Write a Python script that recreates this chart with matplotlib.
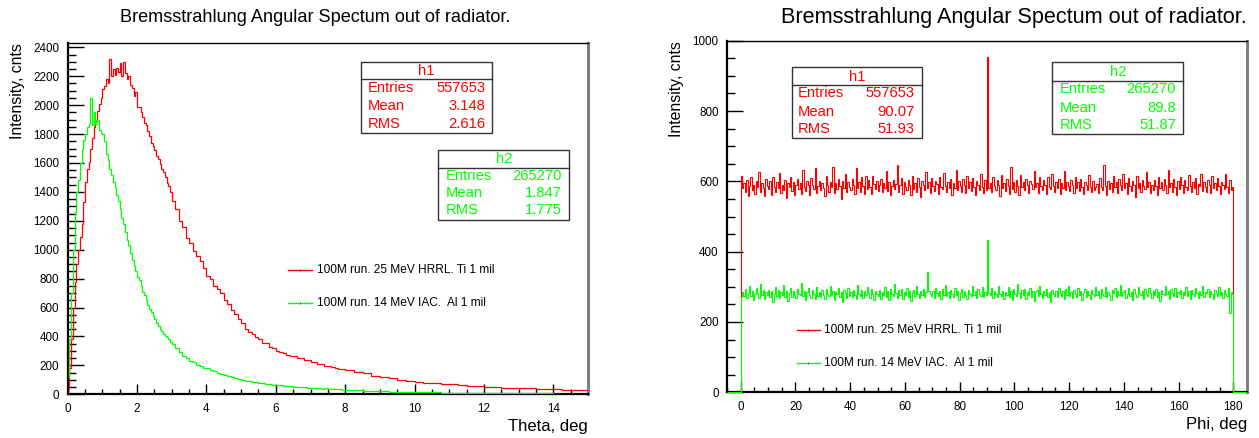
import matplotlib
matplotlib.use("Agg")
import matplotlib.pyplot as plt
import numpy as np
from matplotlib.lines import Line2D
from matplotlib.patches import Rectangle
from matplotlib.ticker import MultipleLocator

# ---------------- data ----------------
title = "Bremsstrahlung Angular Spectum out of radiator."
legend_labels = ["100M run. 25 MeV HRRL. Ti 1 mil", "100M run. 14 MeV IAC.  Al 1 mil"]

# theta histograms (bin edges: 0-3 step .05, 3-8 step .1, 8-15 step .25)
theta_red_a = [40, 180, 380, 600, 780, 900, 1000, 1090, 1180, 1330, 1470, 1560, 1610, 1700, 1770,
               1850, 1890, 1960, 2010, 2050, 2110, 2130, 2180, 2150, 2320, 2200, 2250, 2210, 2260, 2230,
               2290, 2200, 2300, 2220, 2180, 2200, 2140, 2120, 2060, 2090, 1990, 1990, 1950, 1920, 1880,
               1860, 1820, 1790, 1740, 1720, 1690, 1650, 1630, 1590, 1560, 1540, 1500, 1460, 1440, 1400]
theta_red_b = [1340, 1280, 1200, 1160, 1080, 1050, 990, 960, 925, 875, 820, 795, 750, 725, 700,
               650, 625, 585, 555, 520, 490, 455, 430, 415, 398, 382, 358, 352, 328, 322,
               300, 292, 284, 272, 266, 262, 253, 251, 238, 238, 226, 224, 213, 210, 199,
               197, 188, 184, 175, 172]
theta_red_c = [165, 157, 145, 129, 121, 111, 101, 91, 85, 79, 77, 72, 68, 63, 58, 56, 51, 51,
               46, 47, 43, 42, 39, 38, 36, 33, 31, 27]

theta_grn_a = [120, 380, 700, 1000, 1260, 1400, 1480, 1600, 1690, 1760, 1800, 1850, 1880, 2050, 1860,
               1950, 1870, 1900, 1830, 1810, 1800, 1750, 1660, 1620, 1560, 1520, 1470, 1430, 1380, 1340,
               1280, 1220, 1180, 1120, 1070, 1030, 980, 930, 890, 850, 810, 790, 750, 710, 690,
               650, 620, 590, 570, 545, 520, 495, 475, 455, 435, 420, 405, 395, 380, 365]
theta_grn_b = [350, 318, 292, 268, 251, 233, 221, 204, 196, 184, 179, 166, 161, 149, 143,
               134, 129, 117, 113, 105, 101, 95, 93, 87, 85, 79, 77, 72, 71, 65,
               65, 61, 59, 55, 55, 52, 52, 49, 49, 45, 46, 43, 43, 40, 41,
               38, 39, 35, 35, 31]
theta_grn_c = [30, 28, 25, 23, 21, 19, 17, 16, 15, 14, 13, 12, 11, 11, 10, 9, 9, 8, 8, 7,
               7, 7, 6, 6, 5, 5, 5, 5]

# phi histograms, 0.5-degree bins from 0 to 180
phi_red = [616, 580, 594, 571, 603, 559, 588, 612, 576, 590, 565, 601, 583, 627, 570, 596, 580, 557, 607, 588,
           578, 600, 562, 611, 585, 569, 598, 580, 623, 567, 591, 576, 605, 554, 594, 585, 612, 573, 598, 561,
           589, 606, 578, 596, 565, 632, 583, 572, 601, 590, 560, 609, 591, 577, 637, 568, 588, 602, 574, 595,
           580, 559, 614, 589, 571, 599, 584, 641, 566, 594, 578, 607, 587, 551, 602, 582, 621, 570, 597, 584,
           575, 608, 590, 564, 639, 580, 598, 569, 613, 587, 563, 616, 577, 604, 585, 565, 614, 593, 578, 601,
           572, 591, 606, 569, 594, 582, 628, 573, 599, 560, 588, 603, 579, 592, 646, 571, 590, 610, 565, 597,
           583, 576, 603, 589, 562, 616, 579, 595, 570, 609, 584, 555, 600, 589, 574, 627, 582, 598, 567, 610,
           586, 573, 602, 592, 565, 613, 584, 577, 623, 588, 569, 597, 582, 608, 561, 595, 580, 632, 575, 601,
           587, 570, 606, 591, 566, 615, 581, 597, 573, 610, 585, 562, 600, 590, 576, 621, 583, 567, 604, 574,
           955, 582, 596, 569, 611, 586, 574, 603, 590, 558, 617, 581, 595, 572, 606, 588, 563, 640, 579, 598,
           570, 604, 587, 561, 619, 583, 597, 575, 608, 589, 566, 600, 592, 578, 629, 584, 596, 568, 611, 586,
           574, 603, 590, 565, 613, 584, 579, 621, 588, 571, 597, 582, 606, 563, 595, 580, 630, 575, 599, 587,
           572, 604, 589, 568, 613, 581, 597, 573, 608, 585, 564, 598, 590, 576, 619, 583, 569, 602, 576, 584,
           593, 567, 610, 585, 574, 647, 588, 560, 602, 579, 594, 571, 615, 583, 598, 566, 607, 590, 575, 621,
           582, 596, 563, 609, 587, 573, 601, 590, 556, 614, 580, 595, 570, 605, 588, 577, 626, 584, 599, 568,
           591, 576, 603, 587, 562, 611, 580, 597, 574, 608, 589, 566, 633, 583, 595, 571, 606, 585, 560, 600,
           578, 612, 590, 568, 603, 584, 575, 619, 588, 570, 597, 581, 609, 564, 593, 586, 622, 573, 598, 583,
           571, 605, 589, 566, 614, 582, 596, 574, 609, 586, 563, 599, 591, 577, 620, 584, 568, 603, 575, 583]
phi_grn = [270, 286, 275, 293, 267, 282, 301, 273, 289, 262, 280, 297, 282, 269, 307, 276, 290, 264, 285, 277,
           292, 271, 287, 257, 281, 299, 274, 291, 268, 285, 276, 304, 270, 288, 259, 283, 296, 272, 287, 278,
           267, 293, 280, 277, 311, 273, 288, 262, 284, 297, 277, 269, 290, 281, 264, 299, 275, 286, 271, 292,
           278, 265, 294, 280, 273, 301, 276, 289, 263, 286, 279, 296, 270, 284, 258, 291, 282, 267, 298, 275,
           285, 271, 292, 278, 265, 304, 280, 274, 290, 269, 287, 276, 299, 283, 268, 293, 279, 262, 288, 281,
           274, 291, 266, 285, 278, 299, 270, 287, 262, 293, 279, 273, 308, 282, 269, 290, 276, 295, 265, 286,
           278, 297, 271, 289, 261, 284, 292, 274, 301, 279, 268, 288, 277, 294, 270, 285, 342, 289, 280, 275,
           288, 269, 298, 282, 273, 287, 264, 293, 278, 304, 275, 285, 267, 291, 280, 272, 297, 277, 288, 263,
           282, 295, 271, 289, 278, 265, 292, 281, 273, 301, 276, 287, 268, 293, 280, 274, 299, 270, 285, 278,
           432, 283, 276, 297, 268, 289, 279, 272, 302, 281, 274, 289, 266, 285, 278, 299, 270, 287, 262, 293,
           280, 273, 308, 282, 269, 290, 276, 295, 265, 286, 278, 297, 271, 289, 261, 284, 292, 274, 301, 279,
           268, 288, 277, 294, 270, 285, 257, 291, 280, 275, 289, 270, 298, 282, 273, 287, 264, 293, 278, 303,
           275, 285, 267, 291, 280, 272, 297, 277, 288, 263, 282, 295, 271, 289, 278, 265, 292, 281, 273, 300,
           276, 287, 268, 293, 280, 274, 299, 270, 285, 278, 263, 291, 282, 296, 271, 288, 277, 305, 273, 284,
           290, 267, 281, 297, 274, 286, 262, 293, 279, 271, 300, 283, 276, 289, 265, 294, 280, 273, 298, 282,
           269, 287, 278, 295, 272, 284, 260, 291, 281, 276, 302, 279, 288, 266, 293, 283, 274, 297, 270, 286,
           279, 292, 268, 285, 276, 299, 273, 287, 264, 290, 281, 274, 296, 283, 269, 288, 277, 301, 272, 285,
           283, 294, 272, 288, 279, 266, 291, 282, 274, 300, 277, 286, 269, 292, 281, 275, 298, 226, 284, 279]

statsL = {"h1": [("Entries", "557653"), ("Mean", "3.148"), ("RMS", "2.616")],
          "h2": [("Entries", "265270"), ("Mean", "1.847"), ("RMS", "1.775")]}
statsR = {"h1": [("Entries", "557653"), ("Mean", "90.07"), ("RMS", "51.93")],
          "h2": [("Entries", "265270"), ("Mean", "89.8"), ("RMS", "51.87")]}

RED = "#ff0000"
GRN = "#00ff00"

# ---------------- figure ----------------
plt.rcParams['font.family'] = ['Liberation Sans', 'DejaVu Sans']
W, H = 1259, 438
fig = plt.figure(figsize=(W / 100, H / 100), dpi=100)


def fx(px):
    return px / W


def fy(py):
    return 1 - py / H


axL = fig.add_axes([fx(67.7), fy(394.3), fx(588) - fx(67.7), fy(43.3) - fy(394.3)])
axR = fig.add_axes([fx(727), fy(392.3), fx(1247) - fx(727), fy(40.7) - fy(392.3)])

theta_edges = np.concatenate([np.linspace(0, 3, 61)[:-1], np.linspace(3, 8, 51)[:-1], np.linspace(8, 15, 29)])
theta_red = np.array(theta_red_a + theta_red_b + theta_red_c)
theta_grn = np.array(theta_grn_a + theta_grn_b + theta_grn_c)

axL.stairs(theta_red, theta_edges, color=RED, lw=0.9, baseline=None, zorder=3)
axL.stairs(theta_grn, theta_edges, color=GRN, lw=0.9, baseline=None, zorder=3.1)
axL.set_xlim(0, 15)
axL.set_ylim(0, 2428)

phi_edges = np.concatenate([[-5], np.linspace(0, 180, len(phi_red) + 1), [185]])
axR.stairs(np.array([0] + phi_red + [0]), phi_edges, color=RED, lw=0.8, baseline=None, zorder=3, clip_on=False)
axR.stairs(np.array([0] + phi_grn + [0]), phi_edges, color=GRN, lw=0.8, baseline=None, zorder=3.1, clip_on=False)
axR.set_xlim(-5, 185)
axR.set_ylim(0, 1000)


def style(ax, xmaj, xmin, ymaj, ymin):
    ax.xaxis.set_major_locator(MultipleLocator(xmaj))
    ax.xaxis.set_minor_locator(MultipleLocator(xmin))
    ax.yaxis.set_major_locator(MultipleLocator(ymaj))
    ax.yaxis.set_minor_locator(MultipleLocator(ymin))
    ax.tick_params(axis='both', which='both', direction='in', top=False, right=False, labelsize=8.4,
                   colors='black', width=1.0)
    ax.tick_params(axis='y', which='major', length=11.5, pad=6)
    ax.tick_params(axis='y', which='minor', length=5.8)
    ax.tick_params(axis='x', which='major', length=7.5, pad=6)
    ax.tick_params(axis='x', which='minor', length=3.8)
    for s in ['left', 'bottom']:
        ax.spines[s].set_linewidth(1.6)
        ax.spines[s].set_color('black')
    ax.spines['top'].set_linewidth(1.0)
    ax.spines['top'].set_color('black')
    ax.spines['right'].set_linewidth(2.2)
    ax.spines['right'].set_color('#7f7f7f')


style(axL, 2, 0.5, 200, 50)
style(axR, 20, 5, 200, 50)
axL.set_xticks(np.arange(0, 15, 2))

# titles and axis labels
fig.text(fx(315), fy(18), title, ha='center', va='center', fontsize=13.1)
fig.text(fx(1014), fy(18), title, ha='center', va='center', fontsize=15.6)
fig.text(fx(17.5), fy(43), "Intensity, cnts", rotation=90, ha='center', va='top', fontsize=11.4)
fig.text(fx(677), fy(41), "Intensity, cnts", rotation=90, ha='center', va='top', fontsize=11.4)
fig.text(fx(588), fy(427), "Theta, deg", ha='right', va='center', fontsize=12)
fig.text(fx(1247), fy(425), "Phi, deg", ha='right', va='center', fontsize=12)


def statbox(x0, y0, x1, y1, yline, color, name, rows, ty, rys, lx, rx):
    fig.add_artist(Rectangle((fx(x0), fy(y1)), fx(x1) - fx(x0), fy(y0) - fy(y1), transform=fig.transFigure,
                             facecolor='white', edgecolor='#333333', lw=1.0, zorder=5))
    fig.add_artist(Line2D([fx(x0), fx(x1)], [fy(yline), fy(yline)], transform=fig.transFigure,
                          color='#333333', lw=1.0, zorder=6))
    fig.text(fx((x0 + x1) / 2), fy(ty), name, ha='center', va='center', color=color, fontsize=10.6, zorder=7)
    for (lab, val), ry in zip(rows, rys):
        fig.text(fx(lx), fy(ry), lab, ha='left', va='center', color=color, fontsize=10.6, zorder=7)
        fig.text(fx(rx), fy(ry), val, ha='right', va='center', color=color, fontsize=10.6, zorder=7)


statbox(361, 61.7, 491.7, 132.7, 79.3, RED, "h1", statsL["h1"], 70.7, [88.3, 106, 124], 367.3, 485)
statbox(438.3, 150, 569.3, 220, 167.7, GRN, "h2", statsL["h2"], 159.3, [175.7, 193.3, 210.5], 445.7, 562)
statbox(791.7, 67.3, 922.3, 138.3, 85, RED, "h1", statsR["h1"], 76.7, [93.3, 111.7, 129.3], 797.7, 914.3)
statbox(1052.3, 62.3, 1183.3, 134.3, 81, GRN, "h2", statsR["h2"], 72.3, [89.3, 107.7, 125.3], 1059.3, 1176)


def legend(xl0, xl1, xt, ys):
    for col, lab, y in zip([RED, GRN], legend_labels, ys):
        fig.add_artist(Line2D([fx(xl0), fx(xl1)], [fy(y), fy(y)], transform=fig.transFigure, color=col, lw=1.0))
        fig.add_artist(Line2D([fx((xl0 + xl1) / 2)], [fy(y)], transform=fig.transFigure, color='#333333',
                              marker='|', markersize=1.0, markeredgewidth=0.6, lw=0))
        fig.text(fx(xt), fy(y), lab, ha='left', va='center', fontsize=8.6)


legend(288.3, 311.7, 316.7, [270, 302.7])
legend(796.7, 820, 824.3, [330, 363.3])

fig.savefig("out.png", dpi=100)
